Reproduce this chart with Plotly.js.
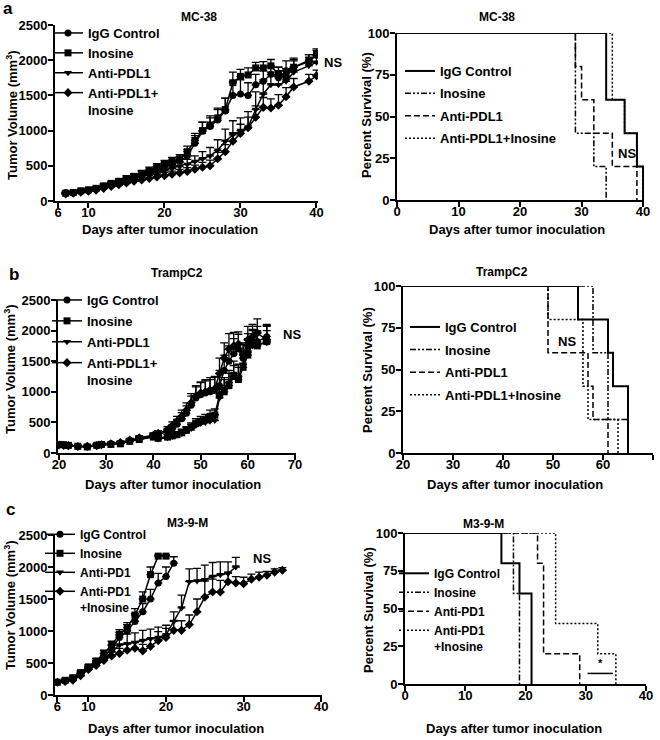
<!DOCTYPE html>
<html>
<head>
<meta charset="utf-8">
<script src="https://cdn.plot.ly/plotly-3.0.1.min.js"></script>
<style>body{margin:0;background:#fff}#graph{width:660px;height:740px}</style>
</head>
<body>
<div id="graph"></div>
<script>
// ---- a : MC-38 tumour growth ----
var days_a = [7,8,9,10,11,12,13,14,15,16,17,18,19,20,21,22,23,24,25,26,27,28,29,30,31,32,33,34,35,36,37,39,40];
var igg_a = [120,115,140,150,170,200,230,260,300,330,370,400,440,480,520,560,640,820,990,1060,1150,1280,1500,1520,1500,1650,1700,1800,1750,1850,1900,1980,2070];
var ino_a = [110,120,145,160,180,215,250,280,320,350,390,430,480,520,560,600,700,860,1000,1080,1180,1300,1680,1770,1790,1890,1890,1920,1800,1760,1900,2000,2080];
var pdl1_a = [100,110,130,150,165,195,225,255,285,310,340,370,400,430,460,490,520,560,600,640,720,850,940,1000,1050,1300,1520,1650,1650,1700,1830,1920,1970];
var combo_a = [100,110,125,140,155,180,205,230,255,280,300,320,340,360,380,400,420,450,480,500,600,700,850,960,1040,1190,1330,1320,1360,1480,1620,1700,1780];
var err_igg_a = [20,20,25,25,30,30,35,40,40,45,50,50,55,60,60,70,90,110,130,120,150,180,200,200,180,150,150,120,150,140,130,100,90];
var err_ino_a = [15,20,20,25,25,30,30,35,40,40,45,50,50,55,60,60,80,100,120,130,140,160,150,100,100,80,90,90,100,120,110,80,60];
var err_pdl1_a = [15,15,20,20,25,25,30,30,35,35,40,40,45,50,50,60,70,80,100,120,150,170,200,180,220,250,200,180,200,180,160,120,100];
var err_combo_a = [15,15,20,20,20,25,25,30,30,35,35,40,40,45,45,50,55,60,70,80,90,100,120,130,150,160,140,130,150,130,120,100,80];

// ---- a : MC-38 survival ----
var surv_igg_a_t = [0,34,37,39,40];     var surv_igg_a = [100,60,40,20,0];
var surv_ino_a_t = [0,29,32,34];        var surv_ino_a = [100,40,20,0];
var surv_pdl1_a_t = [0,29,30,32,35,39]; var surv_pdl1_a = [100,80,60,40,20,0];
var surv_combo_a_t = [0,35,37,39,40];   var surv_combo_a = [100,60,40,20,0];

// ---- b : TrampC2 tumour growth ----
var days_b = [20,21,22,24,26,28,29,31,33,35,37,40,41,43,44,45,46,47,48,49,50,51,52,53,54,55,56,57,58,59,60,61,62,64];
var igg_b = [140,130,120,110,100,130,140,150,160,200,230,280,300,350,400,470,560,650,780,900,950,980,1000,1020,1100,1350,1500,1620,1700,1550,1750,1800,1820,1900];
var ino_b = [140,135,125,110,100,125,140,140,150,190,220,260,240,260,280,300,330,370,420,480,520,540,600,620,950,1000,1100,1250,1200,1400,1600,1800,1750,1820];
var pdl1_b = [130,130,120,105,105,120,130,145,160,200,230,260,230,250,270,290,320,360,400,450,480,500,520,530,900,1050,1150,1300,1250,1450,1650,1750,1780,1800];
var combo_b = [130,125,120,105,110,120,135,150,170,210,250,290,320,380,450,520,600,700,820,930,980,1000,1030,1050,1300,1550,1700,1750,1780,1600,1850,1900,1960,1850];
var err_igg_b = [20,20,20,15,15,20,20,20,25,30,35,40,45,50,60,80,100,120,150,180,200,200,200,220,250,250,250,250,240,220,200,200,250,200];
var err_ino_b = [20,20,20,15,15,20,20,20,25,25,30,35,40,45,50,50,60,60,70,80,80,90,100,100,150,200,200,180,200,220,200,220,250,260];
var err_pdl1_b = [20,20,15,15,15,20,20,20,25,25,30,35,40,45,45,50,55,60,65,70,75,80,90,100,140,180,200,200,200,200,220,200,200,200];
var err_combo_b = [20,20,15,15,15,20,20,25,25,30,35,40,45,50,60,80,100,120,150,170,180,200,200,200,250,250,250,220,200,200,220,200,230,220];

// ---- b : TrampC2 survival ----
var surv_igg_b_t = [20,55,61,62,65];    var surv_igg_b = [100,80,60,40,0];
var surv_ino_b_t = [20,58,61,65];       var surv_ino_b = [100,60,20,0];
var surv_pdl1_b_t = [20,49,57,58,61];   var surv_pdl1_b = [100,60,40,20,0];
var surv_combo_b_t = [20,49,56,57,63];  var surv_combo_b = [100,80,40,20,0];

// ---- c : M3-9-M tumour growth ----
var days_igg_c = [6,7,8,9,10,11,12,13,14,15,16,17,18,19,20,21];
var igg_c = [200,220,250,330,420,500,600,720,900,1000,1150,1300,1500,1750,1850,2060];
var err_igg_c = [20,20,25,30,35,40,45,60,80,100,120,130,150,150,150,100];
var days_ino_c = [6,7,8,9,10,11,12,13,14,15,16,17,18,19,20];
var ino_c = [200,230,270,350,440,530,650,780,950,1050,1250,1500,1880,2170,2170];
var err_ino_c = [20,20,25,30,35,40,50,60,70,80,100,110,120,20,20];
var days_pd1_c = [6,7,8,9,10,11,12,13,14,15,16,17,18,19,20,21,22,23,24,25,26,27,28,29];
var pd1_c = [200,210,240,310,410,480,560,680,780,800,820,850,880,900,940,1150,1360,1770,1780,1800,1850,1880,1900,2000];
var err_pd1_c = [20,20,25,30,35,40,50,100,150,150,150,160,150,160,150,150,200,200,200,230,220,200,180,150];
var days_combo_c = [6,7,8,9,10,11,12,13,14,15,16,17,18,19,20,21,22,23,24,25,26,27,28,29,30,31,32,33,34,35];
var combo_c = [200,210,230,300,400,460,540,610,650,700,730,690,760,850,900,1010,1010,1100,1300,1530,1610,1610,1770,1750,1740,1810,1840,1870,1920,1950];
var err_combo_c = [20,20,25,30,35,40,50,60,80,100,100,100,120,140,140,150,150,150,200,250,200,180,150,100,100,80,80,60,50,40];

// ---- c : M3-9-M survival ----
var surv_igg_c_t = [0,16,19,21];        var surv_igg_c = [100,80,60,0];
var surv_ino_c_t = [0,18,19];           var surv_ino_c = [100,60,0];
var surv_pd1_c_t = [0,22,23,29];        var surv_pd1_c = [100,80,20,0];
var surv_combo_c_t = [0,25,32,35];      var surv_combo_c = [100,40,20,0];

var W = 660, H = 740;
var FONT = 'Liberation Sans, Arial, sans-serif';

function ax(n) { return n > 1 ? String(n) : ''; }

// courbe de croissance avec barres d'erreur vers le haut
function growthTrace(name, x, y, err, symbol, n) {
  return {
    x: x, y: y, name: name, type: 'scatter', mode: 'lines+markers',
    xaxis: 'x' + ax(n), yaxis: 'y' + ax(n),
    legend: 'legend' + ax(n), legendgroup: n + name,
    line: {color: 'black', width: 1.5},
    marker: {symbol: symbol, size: 7, color: 'black'},
    error_y: {type: 'data', symmetric: false, array: err, color: 'black', thickness: 1.3, width: 4}
  };
}

// courbe de survie en escalier
function survTrace(name, t, s, dash, width, n) {
  return {
    x: t, y: s, name: name, type: 'scatter', mode: 'lines',
    xaxis: 'x' + ax(n), yaxis: 'y' + ax(n),
    legend: 'legend' + ax(n), legendgroup: n + name,
    line: {color: 'black', width: width, dash: dash, shape: 'hv'}
  };
}

var DASHDOT = '6px,2px,2px,2px,2px,2px';
var DASH = '6px,3px';
var DOT = '2px,2px';

var data = [
  growthTrace('IgG Control', days_a, igg_a, err_igg_a, 'circle', 1),
  growthTrace('Inosine', days_a, ino_a, err_ino_a, 'square', 1),
  growthTrace('Anti-PDL1', days_a, pdl1_a, err_pdl1_a, 'triangle-down', 1),
  growthTrace('Anti-PDL1+<br>Inosine', days_a, combo_a, err_combo_a, 'diamond', 1),

  survTrace('IgG Control', surv_igg_a_t, surv_igg_a, 'solid', 2, 2),
  survTrace('Inosine', surv_ino_a_t, surv_ino_a, DASHDOT, 1.5, 2),
  survTrace('Anti-PDL1', surv_pdl1_a_t, surv_pdl1_a, DASH, 1.5, 2),
  survTrace('Anti-PDL1+Inosine', surv_combo_a_t, surv_combo_a, DOT, 1.5, 2),

  growthTrace('IgG Control', days_b, igg_b, err_igg_b, 'circle', 3),
  growthTrace('Inosine', days_b, ino_b, err_ino_b, 'square', 3),
  growthTrace('Anti-PDL1', days_b, pdl1_b, err_pdl1_b, 'triangle-down', 3),
  growthTrace('Anti-PDL1+<br>Inosine', days_b, combo_b, err_combo_b, 'diamond', 3),

  survTrace('IgG Control', surv_igg_b_t, surv_igg_b, 'solid', 2, 4),
  survTrace('Inosine', surv_ino_b_t, surv_ino_b, DASHDOT, 1.5, 4),
  survTrace('Anti-PDL1', surv_pdl1_b_t, surv_pdl1_b, DASH, 1.5, 4),
  survTrace('Anti-PDL1+Inosine', surv_combo_b_t, surv_combo_b, DOT, 1.5, 4),

  growthTrace('IgG Control', days_igg_c, igg_c, err_igg_c, 'circle', 5),
  growthTrace('Inosine', days_ino_c, ino_c, err_ino_c, 'square', 5),
  growthTrace('Anti-PD1', days_pd1_c, pd1_c, err_pd1_c, 'triangle-down', 5),
  growthTrace('Anti-PD1<br>+Inosine', days_combo_c, combo_c, err_combo_c, 'diamond', 5),

  survTrace('IgG Control', surv_igg_c_t, surv_igg_c, 'solid', 2, 6),
  survTrace('Inosine', surv_ino_c_t, surv_ino_c, DASHDOT, 1.5, 6),
  survTrace('Anti-PD1', surv_pd1_c_t, surv_pd1_c, DASH, 1.5, 6),
  survTrace('Anti-PD1<br>+Inosine', surv_combo_c_t, surv_combo_c, DOT, 1.5, 6)
];

// position en pixels -> coordonnees papier
function xdom(p0, p1) { return [p0 / W, p1 / W]; }
function ydom(p0, p1) { return [1 - p1 / H, 1 - p0 / H]; }

function axis(domain, range, tickvals, anchor, standoff) {
  return {
    domain: domain, range: range, tickvals: tickvals, anchor: anchor,
    showline: true, linewidth: 2, linecolor: 'black', mirror: false,
    ticks: 'outside', ticklen: 5, tickwidth: 2, tickcolor: 'black',
    ticklabelstandoff: standoff,
    showgrid: false, zeroline: false, fixedrange: true,
    tickfont: {size: 13, family: FONT, weight: 'bold', color: 'black'}
  };
}

var volTicks = [0,500,1000,1500,2000,2500];
var survTicks = [0,25,50,75,100];

function legendAt(px, py, gap, size) {
  return {
    x: px / W, y: 1 - py / H, xanchor: 'left', yanchor: 'top',
    bgcolor: 'rgba(0,0,0,0)', borderwidth: 0, traceorder: 'grouped',
    tracegroupgap: gap, valign: 'top',
    font: {family: FONT, size: size, weight: 'bold', color: 'black'}
  };
}

function note(text, px, py, size, angle) {
  return {
    text: text, xref: 'paper', yref: 'paper', x: px / W, y: 1 - py / H,
    xanchor: 'center', yanchor: 'middle', showarrow: false, textangle: angle || 0,
    font: {family: FONT, size: size, weight: 'bold', color: 'black'}
  };
}

function dataNote(text, n, x, y, size) {
  return {
    text: text, xref: 'x' + ax(n), yref: 'y' + ax(n), x: x, y: y,
    xanchor: 'center', yanchor: 'middle', showarrow: false,
    font: {family: FONT, size: size, weight: 'bold', color: 'black'}
  };
}

var volTitle = 'Tumor Volume (mm<sup>3</sup>)';
var survTitle = 'Percent Survival (%)';
var dayTitle = 'Days after tumor inoculation';

var layout = {
  width: W, height: H,
  margin: {l: 0, r: 0, t: 0, b: 0},
  paper_bgcolor: 'white', plot_bgcolor: 'white',
  font: {family: FONT, size: 13, weight: 'bold', color: 'black'},
  showlegend: true,

  xaxis: axis(xdom(55, 318), [5.6, 40.2], [6,10,20,30,40], 'y', -7),
  yaxis: axis(ydom(25, 201), [0, 2500], volTicks, 'x', -2),
  xaxis2: axis(xdom(397, 644), [0, 40.15], [0,10,20,30,40], 'y2', -7),
  yaxis2: axis(ydom(33, 200), [0, 100], survTicks, 'x2', -2),
  xaxis3: axis(xdom(58, 296), [19.8, 70.2], [20,30,40,50,60,70], 'y3', -7),
  yaxis3: axis(ydom(300, 453), [0, 2500], volTicks, 'x3', -2),
  xaxis4: axis(xdom(403, 653), [20, 70], [20,30,40,50,60,70], 'y4', -7),
  yaxis4: axis(ydom(286, 453), [0, 100], survTicks, 'x4', -2),
  xaxis5: axis(xdom(55, 322), [5.7, 40.1], [6,10,20,30,40], 'y5', -7),
  yaxis5: axis(ydom(535, 695), [0, 2500], volTicks, 'x5', -2),
  xaxis6: axis(xdom(405, 646), [0, 40], [0,10,20,30,40], 'y6', -7),
  yaxis6: axis(ydom(533, 684), [0, 100], survTicks, 'x6', -2),

  legend: legendAt(48, 18, 0, 13),
  legend2: legendAt(400, 56, 2.5, 13),
  legend3: legendAt(47, 285, 1, 13),
  legend4: legendAt(405, 312, 2.7, 13),
  legend5: legendAt(40, 520, 0, 12),
  legend6: legendAt(394, 559, 0, 12),

  shapes: [
    {type: 'line', xref: 'x6', yref: 'y6', x0: 30.3, x1: 34.5, y0: 7, y1: 7,
     line: {color: 'black', width: 1.5}}
  ],

  annotations: [
    note('a', 8, 9, 17), note('b', 14, 274, 17), note('c', 10, 510, 17),
    note('MC-38', 199, 17, 12), note('MC-38', 497, 17, 12),
    note('TrampC2', 177, 273, 12), note('TrampC2', 502, 272, 12),
    note('M3-9-M', 187, 523, 12), note('M3-9-M', 483, 524, 12),
    note(dayTitle, 170, 229, 13), note(dayTitle, 517, 229, 13),
    note(dayTitle, 173, 484, 13), note(dayTitle, 515, 484, 13),
    note(dayTitle, 176, 728, 13), note(dayTitle, 514, 728, 13),
    note(volTitle, 12, 115, 13, -90), note(survTitle, 367, 115, 13, -90),
    note(volTitle, 10, 369, 13, -90), note(survTitle, 367, 370, 13, -90),
    note(volTitle, 10, 605, 13, -90), note(survTitle, 368, 610, 13, -90),
    note('NS', 333, 62, 13),
    dataNote('NS', 2, 37.4, 28, 13),
    dataNote('NS', 3, 69.4, 1944, 13),
    dataNote('NS', 4, 52.7, 67, 13),
    dataNote('NS', 5, 32.4, 2140, 13),
    dataNote('*', 6, 32.4, 14, 11)
  ]
};

Plotly.newPlot('graph', data, layout, {displayModeBar: false, staticPlot: true});
</script>
</body>
</html>
